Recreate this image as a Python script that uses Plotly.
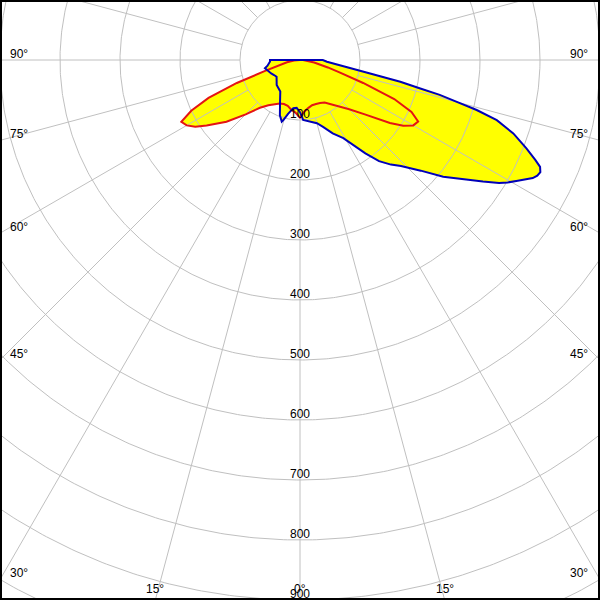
import numpy as np
import plotly.graph_objects as go

# ---------------- data ----------------
# gamma = angle from nadir in degrees (negative = left side), intensity in cd/klm
red_angle = [-90, -85, -80, -75, -72.5, -70, -67.5, -65, -62.5, -60, -57.5, -55, -50, -45, -40,
             -35, -30, -25, -20, -15, -10, -5, 0, 5, 10, 15, 20, 25, 30, 35, 40, 45, 50, 55,
             57.5, 60, 62.5, 65, 67.5, 70, 72.5, 75, 80, 85, 90]
red_I = [4, 10, 22, 40, 62, 112, 165, 200, 223, 218, 207, 190, 160, 128, 104,
         92, 85, 80, 78, 79, 84, 88, 96, 86, 81, 78, 78, 79, 82, 90, 102, 116, 141, 183,
         204, 218, 222, 205, 170, 112, 70, 48, 24, 12, 5]

blue_angle = [-90, -87, -80, -76.7, -70, -65, -60, -54.4, -43, -32, -25.6, -20, -16.5, -15.5,
              -12.5, -7.9, -4, 0, 3, 9, 15, 19, 24, 29, 32, 35, 38, 41, 43.6, 47.5, 50.8, 53.5,
              56.4, 58.3, 59.5, 61, 62, 63.1, 64, 65, 66, 67, 68.7, 71, 73, 74.2, 74.9, 76,
              76.7, 77.8, 80, 83, 86.4, 90]
blue_I = [50, 50, 55, 60, 56, 53, 50, 48, 57, 62, 77, 98, 107, 104,
          92, 81, 80, 87, 100, 104, 109, 118, 134, 149, 168, 190, 214, 231, 244, 273, 308, 334,
          366, 390, 402, 415, 425, 435, 440, 442, 438, 426, 405, 376, 343, 306, 276, 240,
          206, 171, 100, 62, 45, 38]

radial_ticks = [100, 200, 300, 400, 500, 600, 700, 800, 900]
grid_circles = [100, 200, 300, 400, 500, 600, 700, 800, 900, 1000, 1100]
side_angle_labels = [90, 75, 60, 45, 30]
bottom_angle_labels = [15, 0]

R_MAX_X = 500      # half width in cd/klm
Y_TOP = 100
Y_BOTTOM = -900

GRID = "rgb(192,192,192)"
RED = "rgb(228,20,20)"
BLUE = "rgb(0,0,185)"
YELLOW = "#FFFF00"


def to_xy(ang, val):
    a = np.radians(np.asarray(ang, dtype=float))
    v = np.asarray(val, dtype=float)
    return v * np.sin(a), -v * np.cos(a)


def closed(ang, val):
    # upper hemisphere is zero -> curve closes through the centre
    return [-180] + list(ang) + [180], [0] + list(val) + [0]


fig = go.Figure()

ra, rv = closed(red_angle, red_I)
ba, bv = closed(blue_angle, blue_I)
rx, ry = to_xy(ra, rv)
bx, by = to_xy(ba, bv)

# yellow fills
for xx, yy in ((rx, ry), (bx, by)):
    fig.add_trace(go.Scatter(x=xx, y=yy, mode="lines", fill="toself", fillcolor=YELLOW,
                             line=dict(width=0, color=YELLOW), hoverinfo="skip", showlegend=False))

# grid circles
t = np.linspace(0, 2 * np.pi, 721)
cx, cy = [], []
for r in grid_circles:
    cx += list(r * np.cos(t)) + [None]
    cy += list(r * np.sin(t)) + [None]
fig.add_trace(go.Scatter(x=cx, y=cy, mode="lines", line=dict(color=GRID, width=1),
                         hoverinfo="skip", showlegend=False))

# spokes every 15 degrees, starting at the 100 circle
sx, sy = [], []
for a in range(0, 360, 15):
    x0, y0 = to_xy([a], [100])
    x1, y1 = to_xy([a], [1300])
    sx += [x0[0], x1[0], None]
    sy += [y0[0], y1[0], None]
fig.add_trace(go.Scatter(x=sx, y=sy, mode="lines", line=dict(color=GRID, width=1),
                         hoverinfo="skip", showlegend=False))

# curves
fig.add_trace(go.Scatter(x=rx, y=ry, mode="lines", line=dict(color=RED, width=2),
                         hoverinfo="skip", showlegend=False))
fig.add_trace(go.Scatter(x=bx, y=by, mode="lines", line=dict(color=BLUE, width=2),
                         hoverinfo="skip", showlegend=False))

FONT = dict(family="Liberation Sans, Arial, sans-serif", size=12, color="#000000")
ann = []
px = 1000 / 600.0  # data units per pixel
for r in radial_ticks:
    ann.append(dict(x=0, y=-r + 6.5 * px, text=str(r), showarrow=False, font=FONT,
                    xanchor="center", yanchor="middle"))
for a in side_angle_labels:
    yhit = -R_MAX_X / np.tan(np.radians(a)) if a != 90 else 0.0
    ann.append(dict(x=-R_MAX_X + 8 * px, y=yhit + 6.5 * px, text=f"{a}°", showarrow=False,
                    font=FONT, xanchor="left", yanchor="middle"))
    ann.append(dict(x=R_MAX_X - 10 * px, y=yhit + 6.5 * px, text=f"{a}°", showarrow=False,
                    font=FONT, xanchor="right", yanchor="middle"))
for a in bottom_angle_labels:
    xhit = -Y_BOTTOM * np.tan(np.radians(a))
    for s in ([1, -1] if a else [1]):
        ann.append(dict(x=s * xhit, y=Y_BOTTOM + 11 * px, text=f"{a}°", showarrow=False,
                        font=FONT, xanchor="center", yanchor="middle"))

fig.update_layout(
    width=600, height=600,
    margin=dict(l=0, r=0, t=0, b=0),
    paper_bgcolor="white", plot_bgcolor="white",
    xaxis=dict(range=[-R_MAX_X, R_MAX_X], visible=False, showgrid=False, zeroline=False,
               fixedrange=True),
    yaxis=dict(range=[Y_BOTTOM, Y_TOP], visible=False, showgrid=False, zeroline=False,
               fixedrange=True),
    annotations=ann,
    shapes=[dict(type="rect", xref="paper", yref="paper", x0=0, y0=0, x1=1, y1=1,
                 line=dict(color="black", width=4), layer="above")],
    showlegend=False,
)

fig.write_html("out.html", config={"displayModeBar": False},
               post_script="document.body.style.margin='0';")
